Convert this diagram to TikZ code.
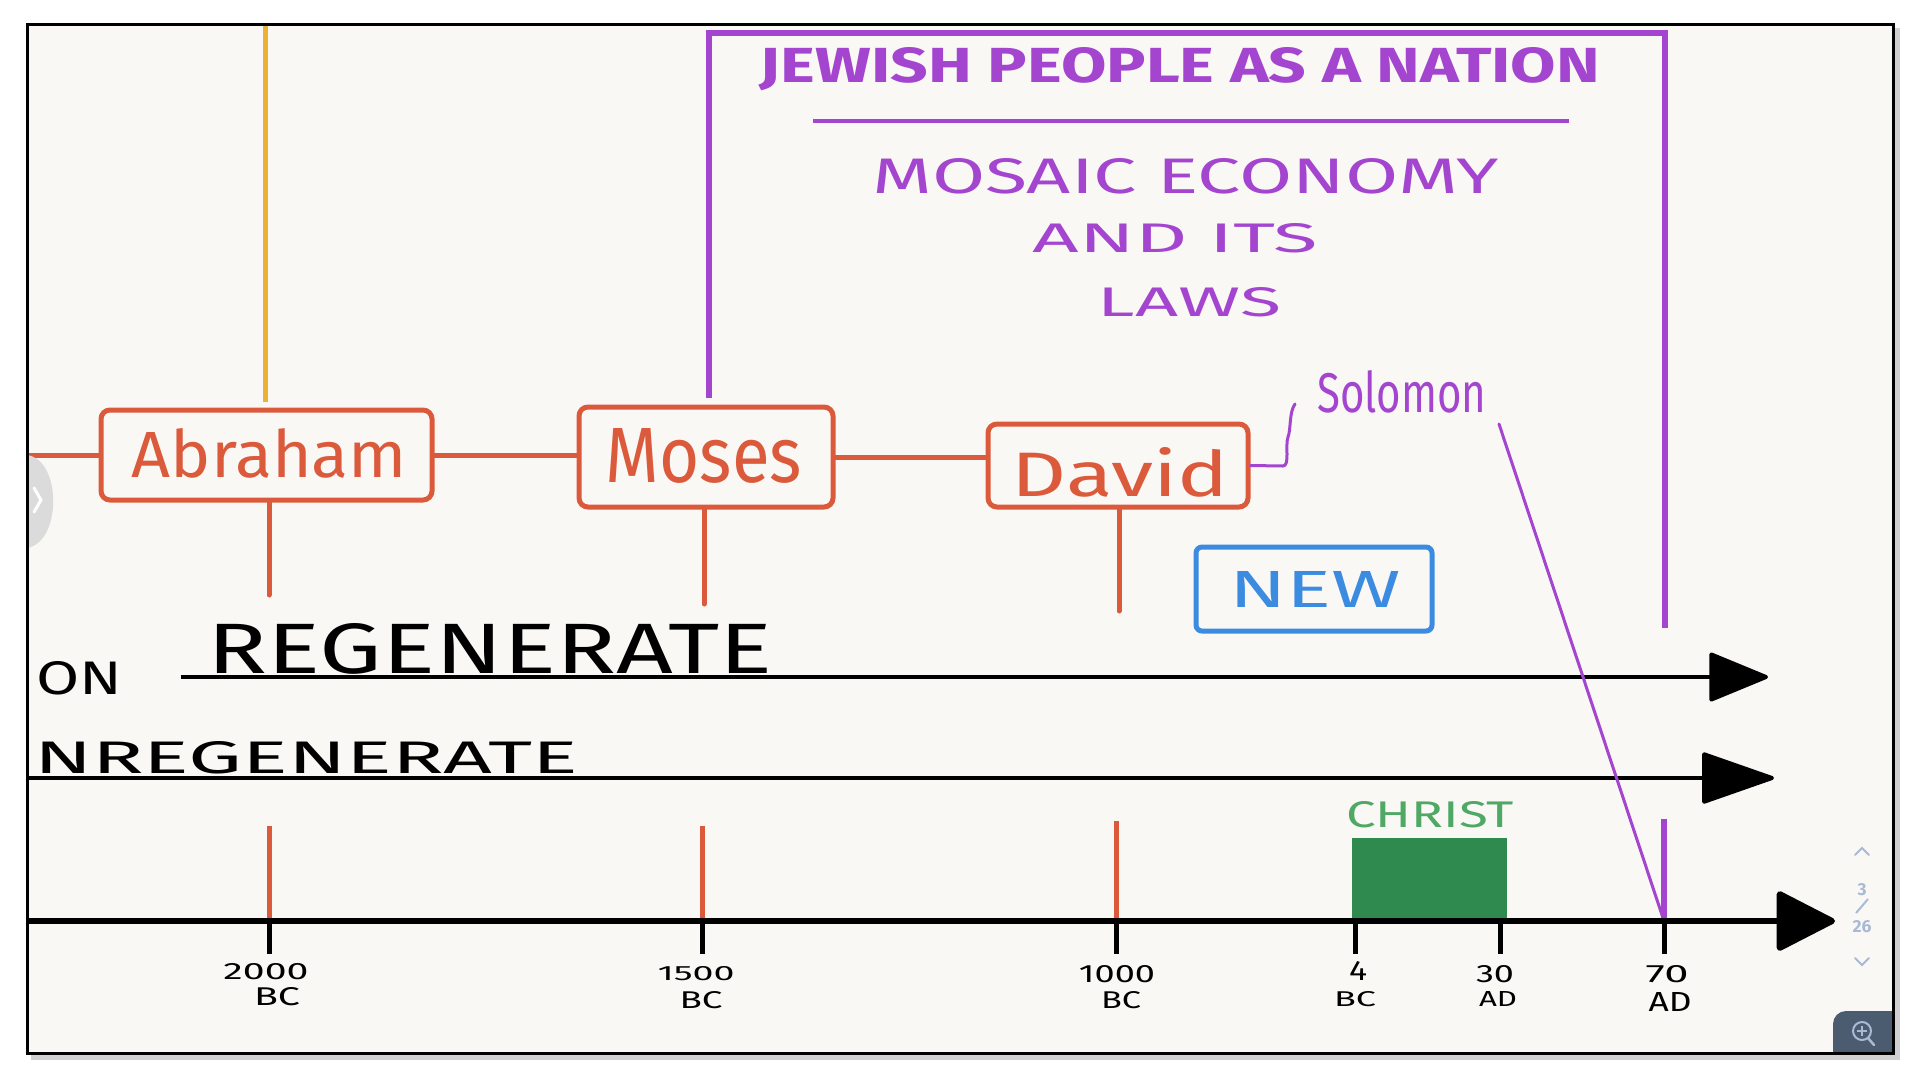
\documentclass[tikz,border=0pt]{standalone}
\usepackage{fontspec}
\setmainfont{Fira Sans}
\usepackage{graphicx}
\usetikzlibrary{arrows.meta}
\definecolor{paper}{HTML}{FAF8F5}
\definecolor{orl}{HTML}{DB5A3B}
\definecolor{pur}{HTML}{A445CF}
\definecolor{yel}{HTML}{EBB234}
\definecolor{blu}{HTML}{3B8BE0}
\definecolor{grnbox}{HTML}{2F8A50}
\definecolor{grntxt}{HTML}{4FA864}
\definecolor{uiblue}{HTML}{A9BAD6}
\definecolor{uidark}{HTML}{4B5B70}
\newcommand{\hw}[3]{\resizebox{#1pt}{#2pt}{#3}}
\tikzset{
  txt/.style={inner sep=0pt, outer sep=0pt},
  orline/.style={draw=orl, line width=5pt, line cap=round},
  namebox/.style={draw=orl, line width=5pt, rounded corners=9pt, inner sep=0pt, fill=paper},
  purline/.style={draw=pur, line width=6pt, line cap=round},
  purthin/.style={draw=pur, line width=3pt, line cap=round, line join=round},
  blkline/.style={draw=black, line width=4pt},
  axisline/.style={draw=black, line width=6pt},
  tickdown/.style={draw=black, line width=5pt},
}
\begin{document}
\begin{tikzpicture}[x=1pt, y=-1pt]
\useasboundingbox (0,0) rectangle (1920,1080);
\fill[white] (0,0) rectangle (1920,1080);
% frame shadow
\draw[black!18, line width=5pt] (31,1057) -- (1897,1057) -- (1897,28);
\fill[paper] (27,24) rectangle (1893,1053);
\begin{scope}
\clip (27,24) rectangle (1893,1053);
% yellow line
\coordinate (ytop) at (265,20);
\coordinate (ybot) at (265,402);
\draw[draw=yel, line width=5pt] (ytop) -- (ybot);
% purple frame
\coordinate (pbl) at (709,398);
\coordinate (ptl) at (709,33);
\coordinate (ptr) at (1665,33);
\coordinate (pbr) at (1665,628);
\draw[purline, line join=miter, line cap=butt] (pbl) -- (ptl) -- (ptr) -- (pbr);
% titles
\node[txt, text=pur] (title) at (1180,69.5) {\hw{840}{35}{\bfseries JEWISH PEOPLE AS A NATION}};
\coordinate (ul1) at (813,121);
\coordinate (ul2) at (1569,121);
\draw[draw=pur, line width=4pt] (ul1) -- (ul2);
\node[txt, text=pur] (mosaic) at (1186,176) {\hw{626}{35}{MOSAIC ECONOMY}};
\node[txt, text=pur] (andits) at (1175.5,238.5) {\hw{285}{29}{AND ITS}};
\node[txt, text=pur] (laws) at (1189.5,302.5) {\hw{183}{29}{LAWS}};
% name boxes
\coordinate (lft) at (20,455);
\node[namebox, minimum width=331pt, minimum height=90pt] (abr) at (266.5,455) {};
\node[namebox, minimum width=254pt, minimum height=100pt] (mos) at (706,457) {};
\node[namebox, minimum width=260pt, minimum height=83pt] (dav) at (1118,465.5) {};
\draw[orline] (lft) -- (abr.west);
\draw[orline] (abr.east) -- (abr.east -| mos.west);
\draw[orline] (mos.east) -- (mos.east -| dav.west);
\node[txt, text=orl] (abrt) at (269.5,453.5) {\hw{275}{49}{Abraham}};
\node[txt, text=orl] (most) at (704,456) {\hw{196}{54}{Moses}};
\node[txt, text=orl] (davt) at (1120.5,472.5) {\hw{217}{49}{David}};
% stems
\coordinate (sabr) at (269,595);
\coordinate (smos) at (704,604);
\coordinate (sdav) at (1119,611);
\draw[orline] (sabr |- abr.south) -- (sabr);
\draw[orline] (smos |- mos.south) -- (smos);
\draw[orline] (sdav |- dav.south) -- (sdav);
% Solomon
\node[txt, text=pur] (sol) at (1402,392) {\hw{169}{42}{Solomon}};
\draw[purthin] (dav.east) -- (1283,466) .. controls (1290,466) and (1285,445) .. (1288,437) .. controls (1291,430) and (1289,412) .. (1295,404);
% NEW
\node[draw=blu, line width=5pt, rounded corners=6pt, minimum width=236pt, minimum height=84pt, inner sep=0pt] (newbox) at (1314,589) {};
\node[txt, text=blu] (newt) at (1315,589) {\hw{172}{36}{NEW}};
% regenerate lines
\node[txt] (regt) at (490,649) {\hw{564}{50}{REGENERATE}};
\node[txt] (ont) at (79,678.5) {\hw{86}{33}{ON}};
\coordinate (regl) at (181,677);
\coordinate (regr) at (1768,677);
\draw[blkline, -{Triangle[length=62pt,width=50pt,round]}] (regl) -- (regr);
\node[txt] (unregt) at (306,758) {\hw{544}{32}{NREGENERATE}};
\coordinate (unl) at (20,778);
\coordinate (unr) at (1774,778);
\draw[blkline, -{Triangle[length=76pt,width=52pt,round]}] (unl) -- (unr);
% axis
\coordinate (axl) at (20,921);
\coordinate (axr) at (1835,921);
\coordinate (t2000) at (269,921);
\coordinate (t1500) at (702,921);
\coordinate (t1000) at (1116,921);
\coordinate (t4) at (1355,921);
\coordinate (t30) at (1500,921);
\coordinate (t70) at (1664,921);
% Christ box
\node[fill=grnbox, minimum width=155pt, minimum height=83pt, inner sep=0pt] (christbox) at (1429.5,879.5) {};
\node[txt, text=grntxt] (christt) at (1430,815) {\hw{168}{26}{CHRIST}};
% orange ticks above axis
\draw[orline, line cap=butt] (t2000) -- ++(0,-95);
\draw[orline, line cap=butt] (t1500) -- ++(0,-95);
\draw[orline, line cap=butt] (t1000) -- ++(0,-100);
\draw[purline, line cap=butt] (t70) -- ++(0,-102);
% Solomon diagonal
\coordinate (soltail) at (1499,424);
\draw[purthin] (soltail) -- (t70);
\draw[axisline, -{Triangle[length=62pt,width=62pt,round]}] (axl) -- (axr);
% ticks below
\foreach \t in {t2000,t1500,t1000,t4,t30,t70} {\draw[tickdown] (\t) -- ++(0,33);}
% labels
\node[txt] (l2000) at (266,972) {\hw{85}{16}{2000}};
\node[txt] (b2000) at (277,997) {\hw{46}{18}{BC}};
\node[txt] (l1500) at (696,974) {\hw{77}{14}{1500}};
\node[txt] (b1500) at (701,1000) {\hw{43}{17}{BC}};
\node[txt] (l1000) at (1117,974) {\hw{76}{17}{1000}};
\node[txt] (b1000) at (1121,1000) {\hw{40}{17}{BC}};
\node[txt] (l4) at (1358,971) {\hw{18}{19}{4}};
\node[txt] (b4) at (1355,999) {\hw{42}{15}{BC}};
\node[txt] (l30) at (1495,974) {\hw{38}{17}{30}};
\node[txt] (a30) at (1498,999) {\hw{38}{15}{AD}};
\node[txt] (l70) at (1667,974) {\hw{43}{17}{70}};
\node[txt] (a70) at (1670,1002) {\hw{43}{19}{AD}};
% UI elements
\fill[black!14] (27,455) .. controls (62,460) and (62,542) .. (27,548) -- cycle;
\draw[white, line width=3pt, line cap=round] (34,488) -- (41,500) -- (34,512);
\draw[uiblue, line width=2pt, line cap=round] (1855,855) -- (1862,848) -- (1869,855);
\node[txt, text=uiblue] (pg3) at (1862,890) {\hw{9}{12}{\bfseries 3}};
\draw[uiblue, line width=2pt] (1856,913) -- (1868,899);
\node[txt, text=uiblue] (pg26) at (1862,927) {\hw{19}{12}{\bfseries 26}};
\draw[uiblue, line width=2pt, line cap=round] (1855,958) -- (1862,965) -- (1869,958);
\fill[uidark] (1893,1053) -- (1833,1053) -- (1833,1024) arc[start angle=180, end angle=90, radius=13pt] -- (1893,1011) -- cycle;
\draw[uiblue, line width=2pt] (1862,1031) circle[radius=9pt];
\draw[uiblue, line width=2.5pt, line cap=round] (1868,1038) -- (1874,1045);
\draw[uiblue, line width=1.5pt] (1862,1026) -- (1862,1036) (1857,1031) -- (1867,1031);
\end{scope}
\draw[black, line width=3pt] (27,24) rectangle (1893,1053);
\end{tikzpicture}
\end{document}
